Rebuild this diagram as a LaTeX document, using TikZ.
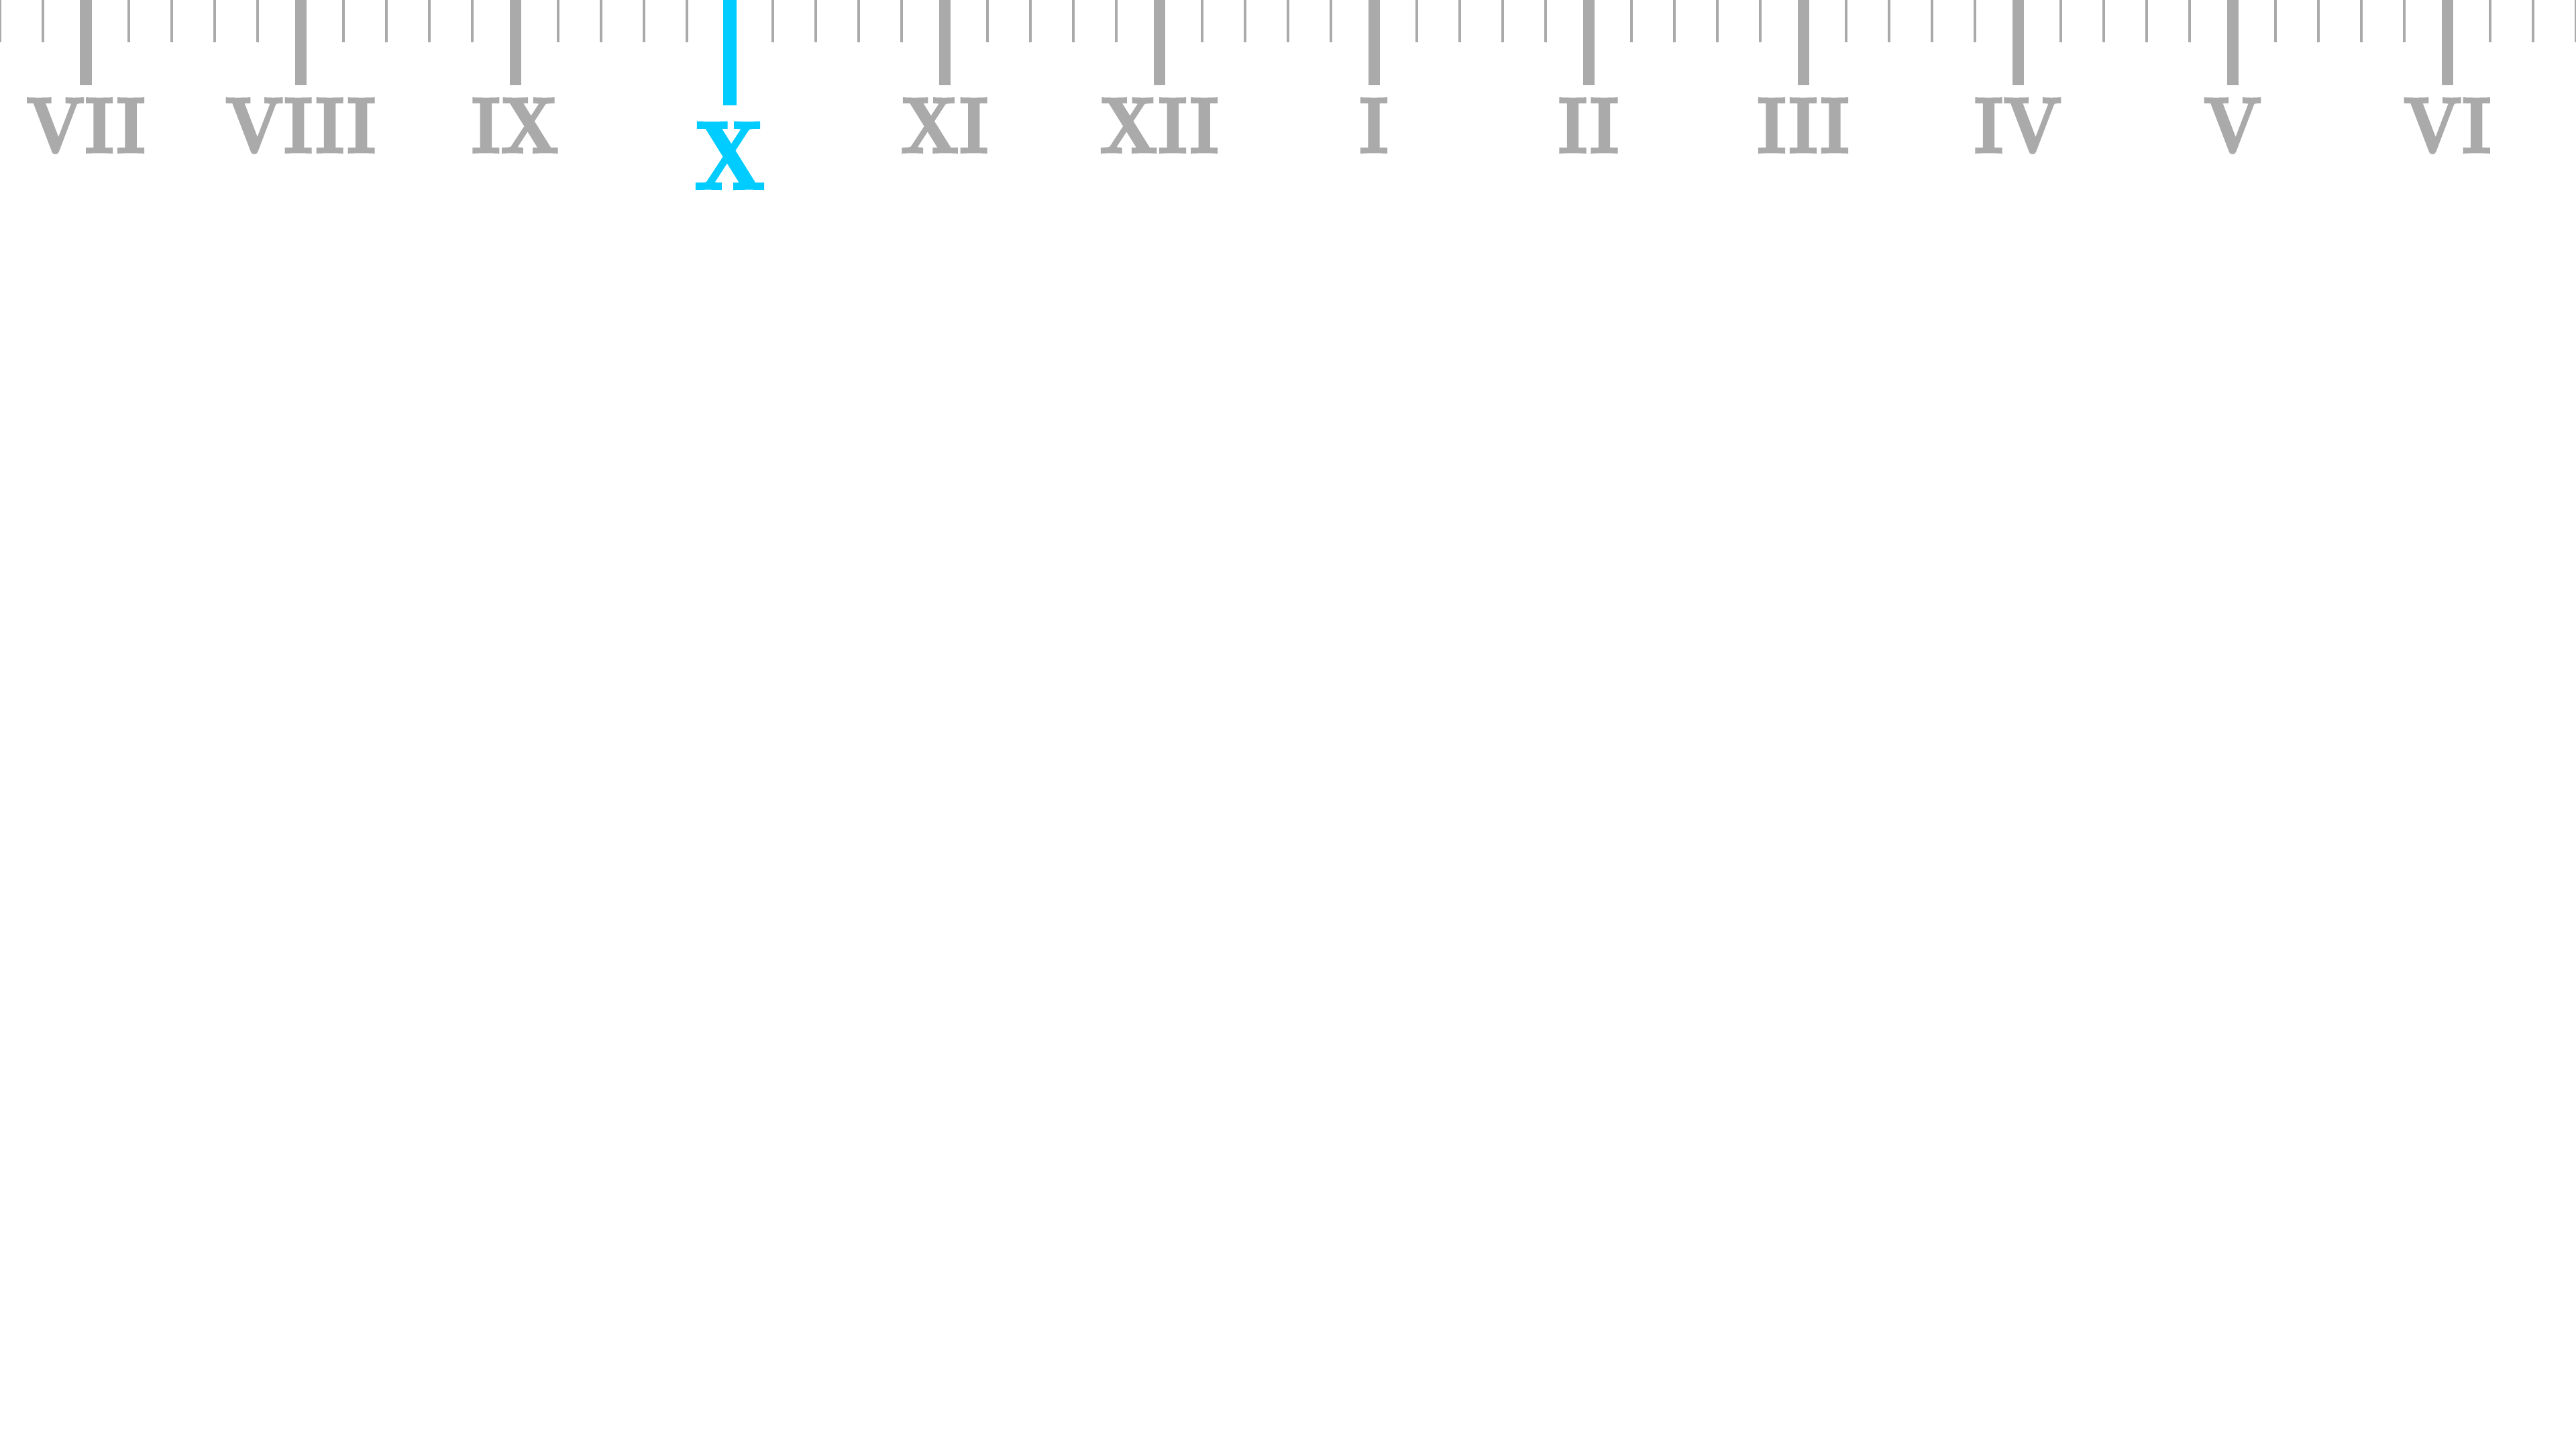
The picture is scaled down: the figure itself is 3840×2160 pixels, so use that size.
\documentclass[tikz,border=0pt]{standalone}
\usepackage{fontspec}
\newfontfamily\heavyfont{lmroman10-bold.otf}[FakeBold=3]
\definecolor{tickgray}{HTML}{AAAAAA}
\definecolor{hiblue}{HTML}{00CCFF}
\newcommand{\sq}[1]{\scalebox{0.86}[1]{#1}}
\begin{document}
\begin{tikzpicture}[x=0.01cm,y=-0.01cm,
  minortick/.style={draw=tickgray,line width=0.046cm},
  majortick/.style={draw=tickgray,line width=0.17cm},
  hitick/.style={draw=hiblue,line width=0.205cm},
  lbl/.style={inner sep=0pt,anchor=base,text=tickgray,font=\fontsize{33.2}{36}\heavyfont},
  hilbl/.style={inner sep=0pt,anchor=base,text=hiblue,font=\fontsize{40.6}{44}\heavyfont}]
\fill[white] (0,0) rectangle (3840,2160);
\useasboundingbox (0,0) rectangle (3840,2160);
\foreach \i in {0,...,60} {
  \draw[minortick] (64*\i,0) -- (64*\i,63);
}
\foreach \k in {0,1,2,4,5,6,7,8,9,10,11} {
  \draw[majortick] (128+320*\k,0) -- (128+320*\k,127);
}
\draw[hitick] (1088,0) -- (1088,157);
\node[lbl] (lVII) at (128,227) {\sq{VII}};
\node[lbl] (lVIII) at (448,227) {\sq{VIII}};
\node[lbl] (lIX) at (768,227) {\sq{IX}};
\node[hilbl] (lX) at (1088,281) {\sq{X}};
\node[lbl] (lXI) at (1408,227) {\sq{XI}};
\node[lbl] (lXII) at (1728,227) {\sq{XII}};
\node[lbl] (lI) at (2048,227) {\sq{I}};
\node[lbl] (lII) at (2368,227) {\sq{II}};
\node[lbl] (lIII) at (2688,227) {\sq{III}};
\node[lbl] (lIV) at (3008,227) {\sq{IV}};
\node[lbl] (lV) at (3328,227) {\sq{V}};
\node[lbl] (lVI) at (3648,227) {\sq{VI}};
\end{tikzpicture}
\end{document}
